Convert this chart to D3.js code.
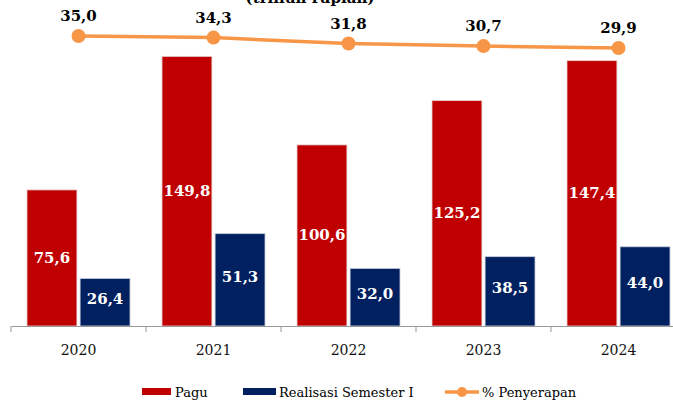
<!DOCTYPE html>
<meta charset="utf-8">
<title>Pagu dan Realisasi</title>
<style>
body { margin: 0; background: #fff; }
text { font-family: "DejaVu Serif", "Liberation Serif", serif; }
</style>
<body>
<script src="https://d3js.org/d3.v7.min.js"></script>
<script>
// data
var years = ["2020", "2021", "2022", "2023", "2024"];
var pagu = [75.6, 149.8, 100.6, 125.2, 147.4];
var realisasi = [26.4, 51.3, 32.0, 38.5, 44.0];
var penyerapan = [35.0, 34.3, 31.8, 30.7, 29.9];

var W = 673, H = 403;
var fmt = function(v) { return v.toFixed(1).replace(".", ","); };

var svg = d3.select("body").append("svg")
    .attr("width", W).attr("height", H);

// scales
var x = d3.scaleBand().domain(years).range([11, 686]).paddingInner(0).paddingOuter(0);
var xs = d3.scaleBand().domain(["pagu", "real"]).range([16, 119]).paddingInner(0.06);
var y = d3.scaleLinear().domain([0, 160]).range([326, 38]);
var y2 = d3.scaleLinear().domain([20, 40]).range([71.3, 24.2]);

// title (cut off at top, as in the source)
svg.append("text")
    .attr("x", 310).attr("y", 3)
    .attr("text-anchor", "middle")
    .attr("font-weight", "bold").attr("font-size", 15)
    .attr("fill", "#000")
    .text("(triliun rupiah)");

var g = svg.selectAll(".grp").data(years).enter().append("g")
    .attr("transform", function(d) { return "translate(" + x(d) + ",0)"; });

// bars
g.append("rect")
    .attr("x", xs("pagu")).attr("width", xs.bandwidth())
    .attr("y", function(d, i) { return y(pagu[i]); })
    .attr("height", function(d, i) { return y(0) - y(pagu[i]); })
    .attr("fill", "#C00000").attr("stroke", "#e6d0d0").attr("stroke-width", 0.8);
g.append("rect")
    .attr("x", xs("real")).attr("width", xs.bandwidth())
    .attr("y", function(d, i) { return y(realisasi[i]); })
    .attr("height", function(d, i) { return y(0) - y(realisasi[i]); })
    .attr("fill", "#002060").attr("stroke", "#c8cdd8").attr("stroke-width", 0.8);

// bar labels
g.append("text")
    .attr("x", xs("pagu") + xs.bandwidth() / 2)
    .attr("y", function(d, i) { return (y(pagu[i]) + y(0)) / 2 + 5; })
    .attr("text-anchor", "middle").attr("fill", "#fff")
    .attr("font-weight", "bold").attr("font-size", 15)
    .text(function(d, i) { return fmt(pagu[i]); });
g.append("text")
    .attr("x", xs("real") + xs.bandwidth() / 2)
    .attr("y", function(d, i) { return (y(realisasi[i]) + y(0)) / 2 + 2; })
    .attr("text-anchor", "middle").attr("fill", "#fff")
    .attr("font-weight", "bold").attr("font-size", 15)
    .text(function(d, i) { return fmt(realisasi[i]); });

// x axis
var axis = svg.append("g").attr("transform", "translate(0,326)")
    .call(d3.axisBottom(x).tickSizeOuter(0).tickSizeInner(0).tickFormat(""));
axis.select(".domain").attr("stroke", "#999").attr("stroke-width", 1.2);
axis.selectAll(".tick").remove();
axis.selectAll(".sep").data(years).enter().append("line")
    .attr("x1", function(d) { return x(d); }).attr("x2", function(d) { return x(d); })
    .attr("y1", 0).attr("y2", 6)
    .attr("stroke", "#999");
svg.selectAll(".yr").data(years).enter().append("text")
    .attr("x", function(d) { return x(d) + x.bandwidth() / 2; })
    .attr("y", 355)
    .attr("text-anchor", "middle").attr("font-size", 14).attr("fill", "#111")
    .text(function(d) { return d; });

// line
var cx = function(i) { return x(years[i]) + x.bandwidth() / 2; };
var line = d3.line()
    .x(function(d, i) { return cx(i); })
    .y(function(d) { return y2(d); });
svg.append("path").datum(penyerapan)
    .attr("d", line).attr("fill", "none")
    .attr("stroke", "#F79646").attr("stroke-width", 3.5);
svg.selectAll(".pt").data(penyerapan).enter().append("circle")
    .attr("cx", function(d, i) { return cx(i); })
    .attr("cy", function(d) { return y2(d); })
    .attr("r", 7).attr("fill", "#F79646");
svg.selectAll(".pl").data(penyerapan).enter().append("text")
    .attr("x", function(d, i) { return cx(i); })
    .attr("y", function(d) { return y2(d) - 15; })
    .attr("text-anchor", "middle").attr("font-weight", "bold")
    .attr("font-size", 15).attr("fill", "#000")
    .text(function(d) { return fmt(d); });

// legend
var leg = svg.append("g").attr("transform", "translate(0,392)");
leg.append("rect").attr("x", 142).attr("y", -4).attr("width", 29).attr("height", 7).attr("fill", "#C00000");
leg.append("text").attr("x", 175).attr("y", 4.5).attr("font-size", 13).text("Pagu");
leg.append("rect").attr("x", 243).attr("y", -4).attr("width", 33).attr("height", 7).attr("fill", "#002060");
leg.append("text").attr("x", 279).attr("y", 4.5).attr("font-size", 13).text("Realisasi Semester I");
leg.append("line").attr("x1", 445).attr("x2", 479).attr("y1", 0).attr("y2", 0)
    .attr("stroke", "#F79646").attr("stroke-width", 3.5);
leg.append("circle").attr("cx", 462).attr("cy", 0).attr("r", 5).attr("fill", "#F79646");
leg.append("text").attr("x", 482).attr("y", 4.5).attr("font-size", 13).text("% Penyerapan");
</script>
</body>
